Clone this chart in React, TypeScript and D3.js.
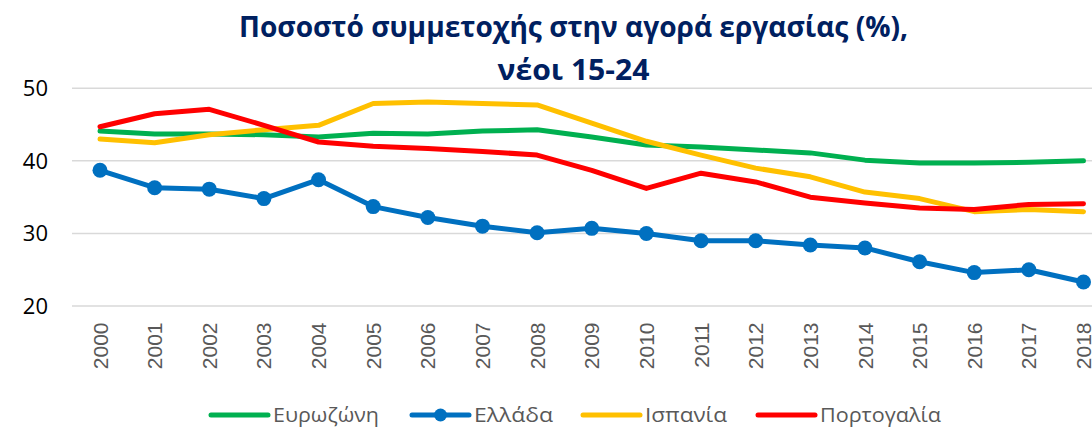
import React from "react";
import * as d3 from "d3";

const years = ["2000","2001","2002","2003","2004","2005","2006","2007","2008","2009","2010","2011","2012","2013","2014","2015","2016","2017","2018"];
const eurozone = [44.1,43.7,43.7,43.6,43.3,43.8,43.7,44.1,44.3,43.3,42.2,41.9,41.5,41.1,40.1,39.7,39.7,39.8,40.0];
const greece = [38.7,36.3,36.1,34.8,37.4,33.7,32.2,31.0,30.1,30.7,30.0,29.0,29.0,28.4,28.0,26.1,24.6,25.0,23.3];
const spain = [43.0,42.5,43.6,44.3,44.9,47.9,48.1,47.9,47.7,45.2,42.7,40.8,39.0,37.8,35.7,34.8,33.0,33.3,33.0];
const portugal = [44.7,46.5,47.1,44.9,42.6,42.0,41.7,41.3,40.8,38.7,36.2,38.3,37.1,35.0,34.2,33.5,33.3,34.0,34.1];
const yTicks = [20, 30, 40, 50];
const titleLines = ["Ποσοστό συμμετοχής στην αγορά εργασίας (%),", "νέοι 15-24"];

const series = [
  { name: "Ευρωζώνη", values: eurozone, color: "#00B050", marker: false },
  { name: "Ελλάδα", values: greece, color: "#0070C0", marker: true },
  { name: "Ισπανία", values: spain, color: "#FFC000", marker: false },
  { name: "Πορτογαλία", values: portugal, color: "#FF0000", marker: false },
];
const drawOrder = [0, 2, 3, 1];

export default function App() {
  const W = 1092, H = 427;
  const x = d3.scalePoint<string>().domain(years).range([100, 1083.5]);
  const y = d3.scaleLinear().domain([20, 50]).range([306, 88.3]);
  const line = d3.line<number>().x((_, i) => x(years[i]) as number).y((d) => y(d));
  const legendX = [211, 412, 583, 758];
  const legendTextW = [106, 79, 82, 121];
  const titleW = [669, 152];

  return (
    <svg width={W} height={H} style={{ position: "absolute", left: 0, top: 0, background: "#fff" }}
      fontFamily="'Open Sans', 'Liberation Sans', sans-serif">
      {titleLines.map((t, i) => (
        <text key={i} x={573.5} y={37 + i * 43} textAnchor="middle" fontSize={28} fontWeight="bold"
          fill="#002060" textLength={titleW[i]} lengthAdjust="spacingAndGlyphs">{t}</text>
      ))}
      {yTicks.map((t) => (
        <g key={t}>
          <line x1={72} x2={1092} y1={y(t)} y2={y(t)} stroke="#d9d9d9" strokeWidth={1.5} />
          <text x={48} y={y(t)} dy="0.36em" textAnchor="end" fontSize={22} fill="#000">{t}</text>
        </g>
      ))}
      {years.map((yr) => (
        <text key={yr} transform={`translate(${x(yr) as number},${322.5}) rotate(-90)`}
          textAnchor="end" dy="0.36em" fontSize={21} fill="#595959"
          fontFamily="'Liberation Sans', Arial, sans-serif">{yr}</text>
      ))}
      {drawOrder.map((si) => {
        const s = series[si];
        return (
          <g key={s.name}>
            <path d={line(s.values) || ""} fill="none" stroke={s.color} strokeWidth={5}
              strokeLinejoin="round" strokeLinecap="round" />
            {s.marker && s.values.map((v, i) => (
              <circle key={i} cx={x(years[i]) as number} cy={y(v)} r={7.5} fill={s.color} />
            ))}
          </g>
        );
      })}
      {series.map((s, i) => (
        <g key={s.name} transform={`translate(${legendX[i]},${415})`}>
          <line x1={0} x2={57} y1={0} y2={0} stroke={s.color} strokeWidth={5} strokeLinecap="round" />
          {s.marker && <circle cx={28.5} cy={0} r={6.5} fill={s.color} />}
          <text x={62} y={0} dy="0.36em" fontSize={20} fill="#595959"
            textLength={legendTextW[i]} lengthAdjust="spacingAndGlyphs">{s.name}</text>
        </g>
      ))}
    </svg>
  );
}
